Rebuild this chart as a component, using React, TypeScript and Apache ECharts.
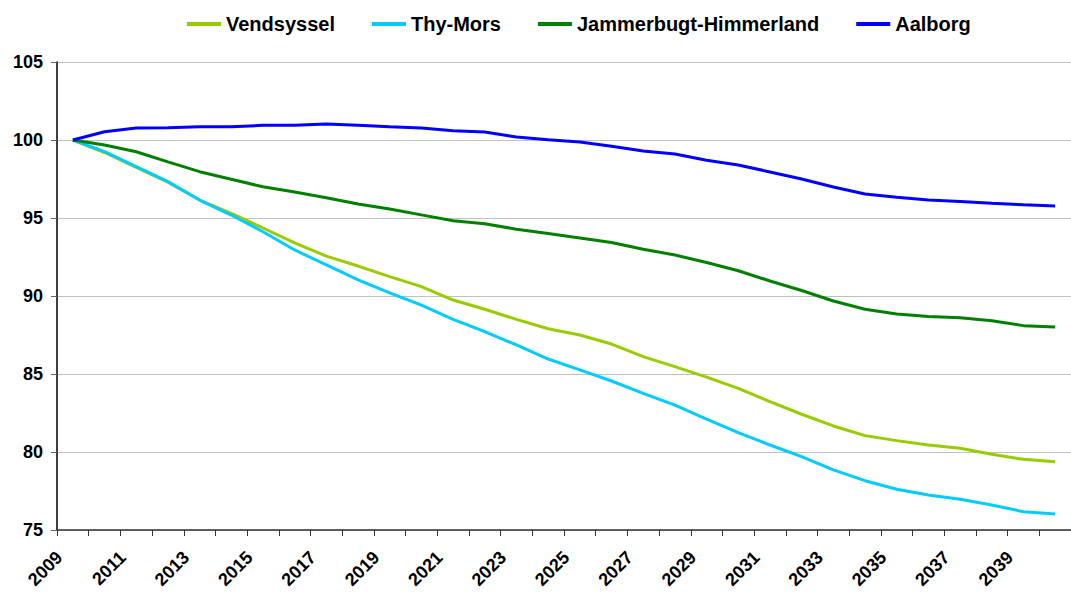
import React, { useEffect, useRef } from "react";
import * as echarts from "echarts";

const years: string[] = [];
for (let y = 2009; y <= 2040; y++) years.push(String(y));

const vendsyssel = [100, 99.2, 98.25, 97.3, 96.15, 95.3, 94.36, 93.4, 92.56, 91.92, 91.24, 90.6, 89.74, 89.15, 88.5, 87.9, 87.5, 86.92, 86.11, 85.47, 84.8, 84.08, 83.23, 82.42, 81.67, 81.05, 80.73, 80.45, 80.24, 79.85, 79.53, 79.38];
const thyMors = [100, 99.25, 98.29, 97.33, 96.15, 95.19, 94.12, 92.95, 91.99, 91.03, 90.2, 89.42, 88.5, 87.71, 86.86, 85.96, 85.26, 84.55, 83.76, 83.0, 82.1, 81.24, 80.45, 79.7, 78.85, 78.16, 77.61, 77.24, 76.97, 76.6, 76.17, 76.03];
const jammerbugt = [100, 99.68, 99.25, 98.6, 97.97, 97.48, 97.0, 96.67, 96.3, 95.9, 95.58, 95.2, 94.83, 94.63, 94.28, 94.0, 93.72, 93.43, 93.0, 92.63, 92.15, 91.62, 90.96, 90.35, 89.68, 89.15, 88.85, 88.68, 88.6, 88.42, 88.1, 88.01];
const aalborg = [100, 100.53, 100.77, 100.79, 100.85, 100.85, 100.94, 100.94, 101.03, 100.94, 100.85, 100.77, 100.6, 100.51, 100.19, 100.02, 99.87, 99.6, 99.3, 99.1, 98.7, 98.4, 97.95, 97.5, 96.99, 96.54, 96.33, 96.15, 96.05, 95.94, 95.85, 95.77];

const seriesDefs = [
  { name: "Vendsyssel", data: vendsyssel, color: "#99CC00" },
  { name: "Thy-Mors", data: thyMors, color: "#00CCFF" },
  { name: "Jammerbugt-Himmerland", data: jammerbugt, color: "#008000" },
  { name: "Aalborg", data: aalborg, color: "#0000FF" },
];

const FONT = "'Liberation Sans', Arial, sans-serif";

export default function App() {
  const ref = useRef<HTMLDivElement>(null);
  useEffect(() => {
    if (!ref.current) return;
    const chart = echarts.init(ref.current, undefined, { renderer: "svg" });
    chart.setOption({
      animation: false,
      backgroundColor: "#ffffff",
      legend: {
        left: 182,
        top: 9,
        itemGap: 37,
        itemWidth: 34,
        itemHeight: 4,
        icon: "rect",
        textStyle: { fontFamily: FONT, fontWeight: "bold", fontSize: 20, color: "#000" },
        data: seriesDefs.map((s) => s.name),
      },
      grid: { left: 57, right: -10, top: 62, bottom: 63, containLabel: false },
      xAxis: {
        type: "category",
        data: years,
        boundaryGap: true,
        axisLine: { lineStyle: { color: "#333", width: 1.5 } },
        axisTick: { show: true, alignWithLabel: false, interval: 0, length: 6, lineStyle: { color: "#333" } },
        axisLabel: {
          interval: 1,
          rotate: 45,
          margin: 11,
          padding: [0, 19, 0, 0],
          fontFamily: FONT,
          fontWeight: "bold",
          fontSize: 18,
          color: "#000",
        },
        splitLine: { show: false },
      },
      yAxis: {
        type: "value",
        min: 75,
        max: 105,
        interval: 5,
        axisLine: { show: true, lineStyle: { color: "#000", width: 1.5 } },
        axisTick: { show: true, length: 6, lineStyle: { color: "#666" } },
        axisLabel: { margin: 14, fontFamily: FONT, fontWeight: "bold", fontSize: 18, color: "#000" },
        splitLine: { show: true, lineStyle: { color: "#c0c0c0", width: 1 } },
      },
      series: seriesDefs.map((s) => ({
        name: s.name,
        type: "line",
        data: s.data,
        symbol: "none",
        smooth: false,
        itemStyle: { color: s.color },
        lineStyle: { color: s.color, width: 3 },
      })),
    });
    return () => chart.dispose();
  }, []);
  return (
    <div
      ref={ref}
      style={{ position: "fixed", left: 0, top: 0, width: 1071, height: 593, background: "#fff" }}
    />
  );
}
